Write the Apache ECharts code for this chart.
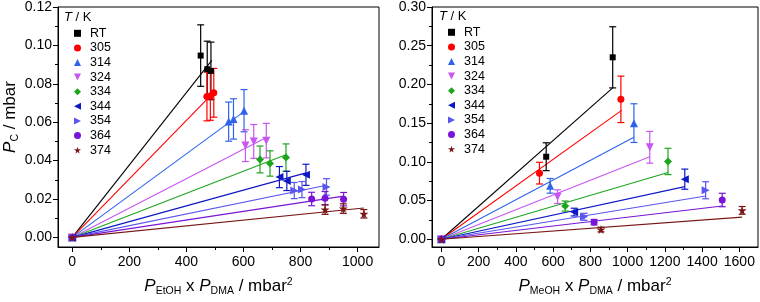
<!DOCTYPE html>
<html><head><meta charset="utf-8">
<script src="https://cdn.jsdelivr.net/npm/echarts@6/dist/echarts.min.js"></script>
<style>html,body{margin:0;padding:0;background:#fff}#c{width:760px;height:302px}</style>
</head><body><div id="c"></div>
<script>
// ---------- data ----------
const tempLabels = ['RT', '305', '314', '324', '334', '344', '354', '364', '374'];

// EtOH panel (left): x = P_EtOH x P_DMA (mbar^2), y = P_C (mbar), err = error bar half-height
const etohX = [
  [0, 450, 473, 486], [0, 472, 484, 496], [0, 548, 565, 602], [0, 607, 636, 680],
  [0, 658, 693, 749], [0, 726, 752, 819], [0, 778, 805, 891], [0, 839, 886, 951],
  [0, 886, 950, 1022]
];
const etohY = [
  [0, 0.0947, 0.0876, 0.0867], [0, 0.0734, 0.0737, 0.0753], [0, 0.0603, 0.0617, 0.0660],
  [0, 0.0478, 0.0500, 0.0504], [0, 0.0406, 0.0385, 0.0416], [0, 0.0314, 0.0294, 0.0326],
  [0, 0.0244, 0.0249, 0.0263], [0, 0.0200, 0.0204, 0.0199], [0, 0.0145, 0.0150, 0.0123]
];
const etohErr = [
  [0, 0.0160, 0.0146, 0.0150], [0, 0.0127, 0.0127, 0.0127], [0, 0.0102, 0.0105, 0.0110],
  [0, 0.0083, 0.0088, 0.0090], [0, 0.0070, 0.0066, 0.0071], [0, 0.0055, 0.0050, 0.0055],
  [0, 0.0042, 0.0042, 0.0043], [0, 0.0035, 0.0035, 0.0035], [0, 0.0025, 0.0025, 0.0022]
];
const etohFitEnd = [
  [489, 0.0922], [496, 0.0755], [602, 0.0655], [680, 0.0520], [749, 0.0430],
  [819, 0.0336], [891, 0.0272], [951, 0.0215], [1022, 0.0153]
];

// MeOH panel (right)
const meohX = [
  [0, 563, 920], [0, 527, 964], [0, 584, 1034], [0, 624, 1119], [0, 665, 1217],
  [0, 713, 1307], [0, 766, 1419], [0, 820, 1508], [0, 857, 1615]
];
const meohY = [
  [0, 0.1066, 0.2350], [0, 0.0854, 0.1807], [0, 0.0690, 0.1500], [0, 0.0550, 0.1188],
  [0, 0.0429, 0.1005], [0, 0.0351, 0.0776], [0, 0.0290, 0.0633], [0, 0.0221, 0.0507],
  [0, 0.0126, 0.0373]
];
const meohErr = [
  [0, 0.0180, 0.0395], [0, 0.0140, 0.0300], [0, 0.0095, 0.0250], [0, 0.0088, 0.0205],
  [0, 0.0065, 0.0170], [0, 0.0050, 0.0130], [0, 0.0045, 0.0110], [0, 0.0035, 0.0087],
  [0, 0.0030, 0.0050]
];
const meohFitEnd = [
  [920, 0.1955], [968, 0.1665], [1034, 0.1317], [1119, 0.1066], [1217, 0.0863],
  [1307, 0.0680], [1419, 0.0559], [1508, 0.0429], [1615, 0.0286]
];

// tick values
const etohXTicks = [0, 200, 400, 600, 800, 1000];
const etohXMinor = [100, 300, 500, 700, 900];
const etohYTicks = [0, 0.02, 0.04, 0.06, 0.08, 0.10, 0.12];
const etohYMinor = [0.01, 0.03, 0.05, 0.07, 0.09, 0.11];
const meohXTicks = [0, 200, 400, 600, 800, 1000, 1200, 1400, 1600];
const meohXMinor = [100, 300, 500, 700, 900, 1100, 1300, 1500];
const meohYTicks = [0, 0.05, 0.10, 0.15, 0.20, 0.25, 0.30];
const meohYMinor = [0.025, 0.075, 0.125, 0.175, 0.225, 0.275];

// ---------- styles ----------
const FONT = '"Liberation Sans", Arial, sans-serif';
const colors = ['#000000', '#ff0000', '#2f63ea', '#c756f2', '#1ea51e', '#0d18c4', '#5a55ee', '#7a14d6', '#7a1616'];
const STAR = 'path://M50,0 L61,35 L98,35 L68,57 L79,91 L50,70 L21,91 L32,57 L2,35 L39,35 Z';
const symbols = ['rect', 'circle', 'triangle', 'path://M0,0 L10,0 L5,10 Z', 'diamond',
  'path://M10,0 L10,10 L0,5 Z', 'path://M0,0 L10,5 L0,10 Z', 'circle', STAR];
const symbolSizes = [6, 7, 8, 8, 8, 8, 8, 7, 9];

function mainXAxis(grid, min, max, ticks) {
  return {
    type: 'value', gridIndex: grid, min: min, max: max, position: 'bottom',
    axisLine: { show: true, onZero: false, lineStyle: { color: '#000', width: 1 } },
    axisTick: { show: true, inside: false, length: 5, customValues: ticks, lineStyle: { color: '#000' } },
    axisLabel: { customValues: ticks, color: '#000', fontSize: 14, fontFamily: FONT, margin: 8,
      formatter: v => String(v) },
    splitLine: { show: false }
  };
}
function minorXAxis(grid, min, max, ticks) {
  return {
    type: 'value', gridIndex: grid, min: min, max: max, position: 'bottom',
    axisLine: { show: false, onZero: false },
    axisTick: { show: true, inside: false, length: 3, customValues: ticks, lineStyle: { color: '#000' } },
    axisLabel: { show: false }, splitLine: { show: false }
  };
}
function mainYAxis(grid, min, max, ticks) {
  return {
    type: 'value', gridIndex: grid, min: min, max: max, position: 'left',
    axisLine: { show: true, onZero: false, lineStyle: { color: '#000', width: 1 } },
    axisTick: { show: true, inside: false, length: 5, customValues: ticks, lineStyle: { color: '#000' } },
    axisLabel: { customValues: ticks, color: '#000', fontSize: 14, fontFamily: FONT, margin: 6,
      formatter: v => v.toFixed(2) },
    splitLine: { show: false }
  };
}
function minorYAxis(grid, min, max, ticks) {
  return {
    type: 'value', gridIndex: grid, min: min, max: max, position: 'left',
    axisLine: { show: false, onZero: false },
    axisTick: { show: true, inside: false, length: 3, customValues: ticks, lineStyle: { color: '#000' } },
    axisLabel: { show: false }, splitLine: { show: false }
  };
}

const nameRich = {
  i: { fontStyle: 'italic', fontSize: 17, fontFamily: FONT, color: '#000' },
  n: { fontSize: 17, fontFamily: FONT, color: '#000' },
  sub: { fontSize: 10.5, fontFamily: FONT, color: '#000', padding: [10, 0, 0, 0] },
  sup: { fontSize: 10.5, fontFamily: FONT, color: '#000', padding: [0, 0, 9, 0] }
};

const xAxes = [
  mainXAxis(0, -50, 1075, etohXTicks), minorXAxis(0, -50, 1075, etohXMinor),
  mainXAxis(1, -50, 1700, meohXTicks), minorXAxis(1, -50, 1700, meohXMinor)
];
xAxes[0].name = '{i|P}{sub|EtOH}{n| x }{i|P}{sub|DMA}{n| / mbar}{sup|2}';
xAxes[0].nameLocation = 'middle';
xAxes[0].nameGap = 29;
xAxes[0].nameTextStyle = { rich: nameRich };
xAxes[2].name = '{i|P}{sub|MeOH}{n| x }{i|P}{sub|DMA}{n| / mbar}{sup|2}';
xAxes[2].nameLocation = 'middle';
xAxes[2].nameGap = 29;
xAxes[2].nameTextStyle = { rich: nameRich };

const yAxes = [
  mainYAxis(0, -0.005, 0.12, etohYTicks), minorYAxis(0, -0.005, 0.12, etohYMinor),
  mainYAxis(1, -0.01, 0.30, meohYTicks), minorYAxis(1, -0.01, 0.30, meohYMinor)
];
yAxes[0].name = '{i|P}{sub|C}{n| / mbar}';
yAxes[0].nameLocation = 'middle';
yAxes[0].nameGap = 28;
yAxes[0].nameTextStyle = { rich: nameRich, padding: [0, 0, 0, 20] };

const series = [];
function addPanel(xs, ys, errs, fitEnds, xAxisIndex, yAxisIndex) {
  // fit lines
  for (let k = 0; k < tempLabels.length; k++) {
    series.push({
      type: 'line', name: 'fit' + xAxisIndex + '_' + k, xAxisIndex, yAxisIndex,
      data: [[0, 0], fitEnds[k]], showSymbol: false, symbol: 'none', silent: true,
      lineStyle: { color: colors[k], width: 1.1 }, z: 2, animation: false
    });
  }
  // error bars
  const errData = [];
  for (let k = 0; k < tempLabels.length; k++) {
    for (let j = 0; j < xs[k].length; j++) {
      if (errs[k][j] > 0) errData.push([xs[k][j], ys[k][j], errs[k][j], k]);
    }
  }
  series.push({
    type: 'custom', name: 'err' + xAxisIndex, xAxisIndex, yAxisIndex, data: errData, z: 3, silent: true,
    animation: false,
    renderItem: function (params, api) {
      const x = api.value(0), y = api.value(1), e = api.value(2), ci = api.value(3);
      const t = api.coord([x, y + e]);
      const b = api.coord([x, y - e]);
      const hw = 3.5;
      const st = { stroke: colors[ci], lineWidth: 1.2 };
      return {
        type: 'group', children: [
          { type: 'line', shape: { x1: t[0], y1: t[1], x2: b[0], y2: b[1] }, style: st },
          { type: 'line', shape: { x1: t[0] - hw, y1: t[1], x2: t[0] + hw, y2: t[1] }, style: st },
          { type: 'line', shape: { x1: b[0] - hw, y1: b[1], x2: b[0] + hw, y2: b[1] }, style: st }
        ]
      };
    }
  });
  // markers
  for (let k = 0; k < tempLabels.length; k++) {
    series.push({
      type: 'scatter', name: tempLabels[k], xAxisIndex, yAxisIndex,
      data: xs[k].map((v, j) => [v, ys[k][j]]),
      symbol: symbols[k], symbolSize: symbolSizes[k],
      itemStyle: { color: colors[k], opacity: 1 }, z: 4, animation: false
    });
  }
}
addPanel(etohX, etohY, etohErr, etohFitEnd, 0, 0);
addPanel(meohX, meohY, meohErr, meohFitEnd, 2, 2);

function legendFor(left, top) {
  return {
    orient: 'vertical', left: left, top: top, itemWidth: 7, itemHeight: 7, itemGap: 0,
    data: tempLabels, selectedMode: false, symbolKeepAspect: true,
    textStyle: { fontSize: 12.5, fontFamily: FONT, color: '#000', lineHeight: 14.6, padding: [0, 0, 0, 4] },
    padding: 0
  };
}

const option = {
  animation: false,
  backgroundColor: '#fff',
  grid: [
    { left: 58, right: 381, top: 7, bottom: 54, show: true, borderColor: '#000', borderWidth: 1 },
    { left: 432, right: 2, top: 7, bottom: 55, show: true, borderColor: '#000', borderWidth: 1 }
  ],
  title: [
    { text: '{i|T} / K', left: 64, top: 11, padding: 0,
      textStyle: { rich: { i: { fontStyle: 'italic', fontSize: 13, fontFamily: FONT, color: '#000' } },
        fontSize: 13, fontFamily: FONT, color: '#000', fontWeight: 'normal' } },
    { text: '{i|T} / K', left: 439, top: 10, padding: 0,
      textStyle: { rich: { i: { fontStyle: 'italic', fontSize: 13, fontFamily: FONT, color: '#000' } },
        fontSize: 13, fontFamily: FONT, color: '#000', fontWeight: 'normal' } }
  ],
  legend: [legendFor(74, 26), legendFor(448, 25)],
  xAxis: xAxes,
  yAxis: yAxes,
  series: series
};

const chart = echarts.init(document.getElementById('c'), null, { renderer: 'canvas' });
chart.setOption(option);
</script>
</body></html>
